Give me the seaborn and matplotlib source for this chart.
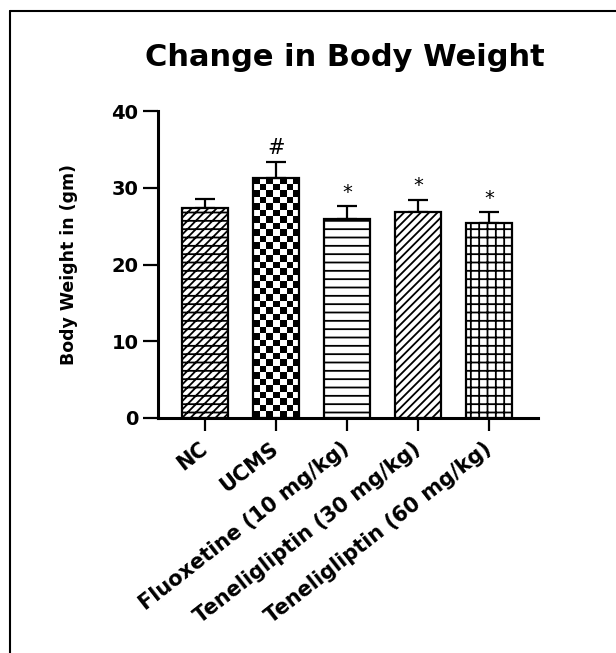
import numpy as np
import matplotlib
matplotlib.use("Agg")
import matplotlib.pyplot as plt
import seaborn as sns
from matplotlib.lines import Line2D

groups = [
    "NC",
    "UCMS",
    "Fluoxetine (10 mg/kg)",
    "Teneligliptin (30 mg/kg)",
    "Teneligliptin (60 mg/kg)",
]
means = [27.4, 31.3, 25.9, 26.8, 25.4]
sems = [1.2, 2.0, 1.7, 1.6, 1.4]
marks = ["", "#", "*", "*", "*"]
hatches = ["////--", "", "--", "////", "++"]

sns.set_style("white")
plt.rcParams["font.family"] = ["DejaVu Sans"]
plt.rcParams["hatch.linewidth"] = 1.3
plt.rcParams["hatch.color"] = "black"
for key in ["text.color", "axes.labelcolor", "xtick.color", "ytick.color"]:
    plt.rcParams[key] = "black"

fig = plt.figure(figsize=(6.16, 6.53), dpi=100)
ax = fig.add_axes([0.2565, 0.3599, 0.617, 0.470])

sns.barplot(
    x=groups,
    y=means,
    color="white",
    edgecolor="black",
    linewidth=1.6,
    width=0.65,
    errorbar=None,
    ax=ax,
)

bars = ax.patches[: len(groups)]
for bar, h in zip(bars, hatches):
    bar.set_hatch(h)
    bar.set_zorder(2)

# checkerboard fill for UCMS, clipped to its bar
ucms = bars[1]
ucms.set_facecolor("none")
ncols = 7
nrows = int(round(ucms.get_height() / 0.85))
board = np.indices((nrows, ncols)).sum(axis=0) % 2
img = ax.imshow(
    board,
    cmap="gray",
    interpolation="nearest",
    aspect="auto",
    extent=(ucms.get_x(), ucms.get_x() + ucms.get_width(), 0, ucms.get_height()),
    zorder=1.5,
)
img.set_clip_path(ucms)

ax.errorbar(
    x=np.arange(len(groups)),
    y=means,
    yerr=[np.zeros(len(groups)), sems],
    fmt="none",
    ecolor="black",
    elinewidth=1.6,
    capsize=7,
    capthick=1.6,
    zorder=1.8,
)

for i, (m, s, t) in enumerate(zip(means, sems, marks)):
    if t:
        ax.text(i, m + s + 0.6, t, ha="center", va="bottom",
                fontsize=15 if t == "#" else 14)

ax.set_xlim(-0.66, 4.69)
ax.set_ylim(0, 40)
ax.set_yticks([0, 10, 20, 30, 40])

sns.despine(ax=ax)
for side in ["left", "bottom"]:
    ax.spines[side].set_linewidth(2.2)
    ax.spines[side].set_color("black")

ax.tick_params(axis="y", length=11, width=1.6, pad=3, labelsize=14, left=True)
ax.tick_params(axis="x", length=9.5, width=1.6, pad=11, labelsize=15, bottom=True)
for lab in ax.get_yticklabels():
    lab.set_fontweight("bold")
ax.set_xticks(range(len(groups)))
ax.set_xticklabels(groups, rotation=38, ha="right", va="center",
                   rotation_mode="anchor", fontweight="bold")

ax.set_ylabel("Body Weight in (gm)", fontsize=12.5, fontweight="bold", labelpad=24)

fig.text(345 / 616, 1 - 57 / 653, "Change in Body Weight",
         ha="center", va="center", fontsize=22, fontweight="bold")

# outer frame (top and left edges only)
fig.add_artist(Line2D([10 / 616, 1], [1 - 11 / 653, 1 - 11 / 653],
                      transform=fig.transFigure, color="black", lw=1.5))
fig.add_artist(Line2D([10 / 616, 10 / 616], [0, 1 - 11 / 653],
                      transform=fig.transFigure, color="black", lw=1.5))

fig.savefig("out.png", dpi=100, facecolor="white")
